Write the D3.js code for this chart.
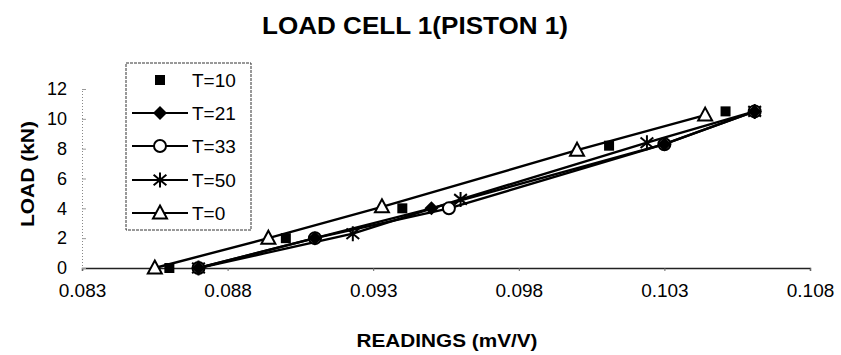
<!DOCTYPE html>
<html>
<head>
<meta charset="utf-8">
<script src="https://cdn.jsdelivr.net/npm/d3@7"></script>
<style>
  html, body { margin: 0; padding: 0; background: #fff; }
  svg { display: block; font-family: Arial, "Liberation Sans", Helvetica, sans-serif; }
</style>
</head>
<body>
<svg id="chart" width="841" height="355"></svg>
<script>
// Load cell calibration: readings (mV/V) against applied load (kN) at several temperatures
const seriesNames = ["T=10", "T=21", "T=33", "T=50", "T=0"];
const readingsT10 = [0.0860, 0.0900, 0.0940, 0.1011, 0.1051];
const loadsT10    = [0, 2, 4, 8.2, 10.5];
const readingsT21 = [0.0870, 0.0910, 0.0950, 0.1030, 0.1061];
const loadsT21    = [0, 2, 4, 8.3, 10.5];
const readingsT33 = [0.0870, 0.0910, 0.0956, 0.1030, 0.1061];
const loadsT33    = [0, 2, 4, 8.3, 10.5];
const readingsT50 = [0.0870, 0.0923, 0.0960, 0.1024, 0.1061];
const loadsT50    = [0, 2.3, 4.6, 8.4, 10.5];
const readingsT0  = [0.0855, 0.0894, 0.0933, 0.1000, 0.1044];
const loadsT0     = [0, 2, 4.1, 7.9, 10.25];
const xTicks = [0.083, 0.088, 0.093, 0.098, 0.103, 0.108];
const yTicks = [0, 2, 4, 6, 8, 10, 12];

const series = [
  { name: seriesNames[0], xs: readingsT10, ys: loadsT10, marker: "square",   line: false },
  { name: seriesNames[1], xs: readingsT21, ys: loadsT21, marker: "diamond",  line: true },
  { name: seriesNames[2], xs: readingsT33, ys: loadsT33, marker: "circle",   line: true },
  { name: seriesNames[3], xs: readingsT50, ys: loadsT50, marker: "star",     line: true },
  { name: seriesNames[4], xs: readingsT0,  ys: loadsT0,  marker: "triangle", line: true }
];

const svg = d3.select("#chart");
const x = d3.scaleLinear().domain([0.083, 0.108]).range([82, 810]);
const y = d3.scaleLinear().domain([0, 12]).range([268, 89]);

// Title
svg.append("text")
  .attr("x", 415).attr("y", 34)
  .attr("text-anchor", "middle")
  .attr("font-size", 23).attr("font-weight", "bold")
  .attr("textLength", 306).attr("lengthAdjust", "spacingAndGlyphs")
  .text("LOAD CELL 1(PISTON 1)");

// X axis
const xAxis = svg.append("g").attr("transform", `translate(0,${y(0)})`)
  .call(d3.axisBottom(x).tickValues(xTicks).tickFormat(d3.format(".3f")).tickSize(3).tickPadding(13));
xAxis.select(".domain").attr("stroke", "#222").attr("stroke-width", 1.4);
xAxis.selectAll(".tick line").attr("stroke", "#666");
xAxis.selectAll("text").attr("font-size", 19).attr("fill", "#000").attr("font-family", "Arial, 'Liberation Sans', sans-serif");

// Y axis (faint, dotted)
const yAxis = svg.append("g").attr("transform", `translate(${x(0.083)},0)`)
  .call(d3.axisRight(y).tickValues(yTicks).tickSize(4).tickFormat(""));
yAxis.select(".domain").attr("stroke", "#888").attr("stroke-dasharray", "1,2");
yAxis.selectAll(".tick line").attr("stroke", "#999");
svg.append("g").selectAll("text").data(yTicks).join("text")
  .attr("x", 67).attr("y", d => y(d)).attr("dy", "0.35em")
  .attr("text-anchor", "end").attr("font-size", 18)
  .text(d => d);

// Axis titles
svg.append("text")
  .attr("x", 447).attr("y", 347)
  .attr("text-anchor", "middle").attr("font-size", 19).attr("font-weight", "bold")
  .attr("textLength", 181).attr("lengthAdjust", "spacingAndGlyphs")
  .text("READINGS (mV/V)");
svg.append("text")
  .attr("transform", `translate(34,174) rotate(-90)`)
  .attr("text-anchor", "middle").attr("font-size", 19).attr("font-weight", "bold")
  .attr("textLength", 106).attr("lengthAdjust", "spacingAndGlyphs")
  .text("LOAD (kN)");

// Marker drawing
function drawMarker(g, type, cx, cy) {
  if (type === "square") {
    g.append("rect").attr("x", cx - 5).attr("y", cy - 5).attr("width", 10).attr("height", 10).attr("fill", "#000");
  } else if (type === "diamond") {
    g.append("path").attr("d", `M${cx},${cy - 7}L${cx + 7},${cy}L${cx},${cy + 7}L${cx - 7},${cy}Z`).attr("fill", "#000");
  } else if (type === "circle") {
    g.append("circle").attr("cx", cx).attr("cy", cy).attr("r", 6).attr("fill", "#fff").attr("stroke", "#000").attr("stroke-width", 2);
  } else if (type === "star") {
    const r = 7.5;
    g.append("path")
      .attr("d", `M${cx},${cy - r}L${cx},${cy + r}M${cx - r * 0.85},${cy - r * 0.7}L${cx + r * 0.85},${cy + r * 0.7}M${cx - r * 0.85},${cy + r * 0.7}L${cx + r * 0.85},${cy - r * 0.7}`)
      .attr("stroke", "#000").attr("stroke-width", 2).attr("fill", "none");
  } else if (type === "triangle") {
    g.append("path").attr("d", `M${cx},${cy - 7.5}L${cx + 7},${cy + 5.5}L${cx - 7},${cy + 5.5}Z`)
      .attr("fill", "#fff").attr("stroke", "#000").attr("stroke-width", 2);
  }
}

// Series lines
const line = d3.line().x(d => x(d[0])).y(d => y(d[1]));
const plot = svg.append("g");
series.filter(s => s.line).forEach(s => {
  plot.append("path")
    .datum(s.xs.map((v, i) => [v, s.ys[i]]))
    .attr("d", line)
    .attr("fill", "none").attr("stroke", "#000").attr("stroke-width", 2.4);
});
// Series markers, later series drawn beneath earlier ones
series.slice().reverse().forEach(s => {
  const g = plot.append("g");
  s.xs.forEach((v, i) => drawMarker(g, s.marker, x(v), y(s.ys[i])));
});

// Legend
const legend = svg.append("g");
legend.append("rect")
  .attr("x", 126).attr("y", 63).attr("width", 125).attr("height", 167)
  .attr("fill", "#fff").attr("stroke", "#333").attr("stroke-width", 1).attr("stroke-dasharray", "3,1");
const legendY = [80, 113, 146, 180, 213];
series.forEach((s, i) => {
  const ly = legendY[i];
  const g = legend.append("g");
  if (s.line) {
    g.append("line").attr("x1", 132).attr("x2", 188).attr("y1", ly).attr("y2", ly)
      .attr("stroke", "#000").attr("stroke-width", 2);
  }
  drawMarker(g, s.marker, 160, ly);
  g.append("text").attr("x", 192).attr("y", ly).attr("dy", "0.35em")
    .attr("font-size", 19).text(s.name);
});
</script>
</body>
</html>
